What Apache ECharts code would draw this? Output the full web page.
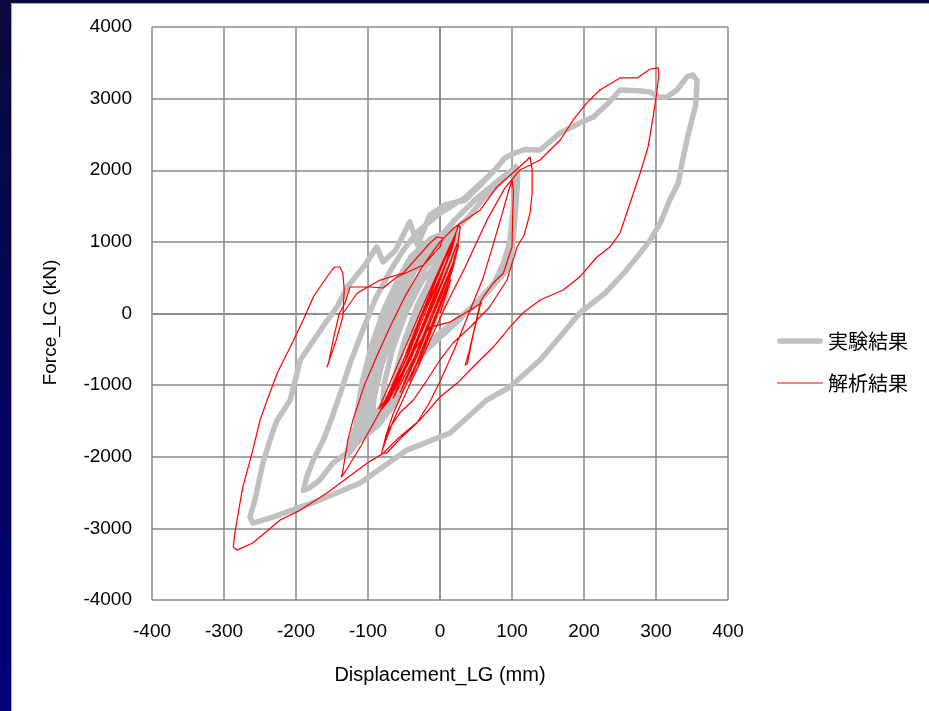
<!DOCTYPE html>
<html>
<head>
<meta charset="utf-8">
<script src="https://cdn.jsdelivr.net/npm/echarts@6/dist/echarts.min.js"></script>
<style>
  html, body { margin: 0; padding: 0; background: #ffffff; }
  #chart { width: 929px; height: 711px; }
</style>
</head>
<body>
<div id="chart"></div>
<script>
// Axis ranges and tick spacing
const dispRange = [-400, 400];
const dispStep = 100;
const forceRange = [-4000, 4000];
const forceStep = 1000;

// Series names
const seriesNames = ['実験結果', '解析結果'];

// Test record: displacement (mm), force (kN), in loading order
const experimentPath = [
  // small cycles around the origin
  [0,0],[8,250],[12,450],[4,200],[-10,-150],[-25,-550],[-35,-800],[-30,-550],[-18,-150],[0,300],[12,600],[6,400],
  [-8,50],[-28,-450],[-45,-850],[-50,-1000],[-48,-700],[-38,-300],[-22,150],[-5,480],[10,700],[6,450],[-5,100],
  [-20,-300],[-35,-700],[-50,-1000],[-65,-1200],[-62,-850],[-50,-400],[-32,100],[-12,500],[15,850],[10,550],[-2,150],
  [-18,-300],[-40,-800],[-65,-1200],[-80,-1400],[-78,-1000],[-66,-500],[-48,0],[-25,450],[0,750],[20,950],[14,650],
  [0,250],[-15,-200],[-35,-650],[-58,-1050],[-80,-1400],[-95,-1600],[-92,-1200],[-82,-750],[-65,-250],[-45,250],
  [-20,650],[5,900],[22,1050],[16,750],[2,300],[-12,-100],[-30,-550],[-55,-1000],[-75,-1300],[-95,-1600],[-105,-1700],
  [-100,-1300],[-90,-800],[-75,-300],[-55,200],[-35,600],[-10,900],[25,1100],[20,800],[8,400],[-5,0],[-25,-500],
  [-50,-1000],[-80,-1400],[-105,-1700],[-110,-1750],[-108,-1400],[-98,-900],[-80,-350],[-60,200],[-38,650],[-15,950],
  [22,1150],[15,850],[5,450],[-5,100],[-20,-350],[-42,-850],[-62,-1250],[-85,-1550],[-115,-1800],[-113,-1500],
  [-105,-1000],[-90,-500],[-72,0],[-52,450],[-35,750],[-10,1000],[20,1150],[8,800],[-2,350],[-12,0],[-30,-450],
  [-55,-950],[-78,-1350],[-100,-1650],[-118,-1820],[-116,-1450],[-108,-950],[-95,-450],[-78,50],[-58,480],[-40,800],
  [-12,1050],[22,1180],
  // first medium cycle
  [40,1350],[60,1600],[80,1800],[95,1950],[105,2050],[108,1900],[106,1600],[103,1200],[100,886],[93,607],[65,286],
  [46,91],[18,-133],[0,-272],[-14,-412],[-40,-750],[-70,-1150],[-95,-1500],[-112,-1760],[-126,-1950],[-130,-1990],
  [-126,-1850],[-118,-1600],[-108,-1350],[-98,-1100],[-85,-750],[-65,-300],[-45,150],[-25,600],[-5,1000],
  [20,1300],[50,1600],[80,1850],[100,2000],
  // second medium cycle, then the large cycle
  [105,1900],[102,1500],[97,1000],[88,700],[75,420],[50,150],[20,-150],[-20,-520],[-60,-1000],[-100,-1550],
  [-115,-1767],[-129,-1948],[-149,-2088],[-167,-2325],[-182,-2440],[-190,-2470],[-188,-2400],[-185,-2283],
  [-176,-2046],[-162,-1767],[-150,-1450],[-138,-1100],[-125,-700],[-108,-250],[-90,200],[-70,580],[-50,900],
  [-30,1150],[0,1400],[35,1620],[60,1850],[76,2004],[90,2172],[104,2241],[118,2290],
  [139,2283],[167,2521],[194,2660],[213,2744],[235,2950],[250,3121],[275,3110],[292,3093],[303,3024],[315,3024],
  [329,3120],[343,3303],[351,3331],[357,3250],[356,3050],[355,2900],[351,2750],[344,2465],[337,2143],[331,1822],
  [319,1584],[306,1264],[292,1025],[278,843],[255,560],[230,290],[194,7],[171,-272],[139,-649],[97,-1026],[65,-1208],
  [14,-1669],[-46,-1907],[-111,-2367],[-167,-2605],[-232,-2842],[-260,-2926],[-264,-2842],[-257,-2605],[-246,-2088],
  [-233,-1669],[-226,-1488],[-208,-1208],[-194,-649],[-163,-188],[-143,91],[-129,370],[-104,677],[-88,929],[-79,719],
  [-62,880],[-42,1278],[-31,956],[-14,1376],[7,1516],[35,1585],[56,1795],[76,2004],[90,2172]
];

// Analysis result: displacement (mm), force (kN), in loading order
const analysisPath = [
  [0,0],[8,250],[15,480],[10,350],[-5,-50],[-20,-450],[-30,-700],[-22,-500],[-5,0],[10,400],[20,700],[14,520],
  [-2,80],[-25,-500],[-42,-950],[-35,-780],[-15,-250],[5,250],[22,800],[16,620],[-5,100],[-30,-550],[-55,-1100],
  [-48,-920],[-25,-380],[0,200],[20,750],[26,950],[18,700],[-5,150],[-35,-600],[-65,-1180],[-58,-1000],[-35,-480],
  [-10,100],[12,650],[24,980],[14,720],[-10,150],[-40,-620],[-72,-1230],[-80,-1300],[-70,-1080],[-45,-520],[-20,80],
  [5,620],[18,960],[8,700],[-15,150],[-45,-600],[-75,-1200],[-85,-1330],[-76,-1120],[-52,-560],[-25,80],[0,640],
  [16,1000],[10,760],[-8,250],[-32,-380],[-60,-980],[-78,-1280],[-70,-1150],[-48,-650],[-28,-120],[-6,450],[12,880],
  [20,1080],[14,850],[-4,350],[-26,-250],[-52,-850],[-74,-1250],[-83,-1360],[-74,-1200],[-55,-760],[-34,-220],
  [-12,330],[8,800],[22,1100],[16,880],[0,480],[-22,-100],[-46,-700],[-68,-1150],[-80,-1320],[-72,-1180],[-50,-700],
  [-30,-170],[-8,420],[10,850],[18,1020],
  [26,1236],[28,1200],[24,920],[10,400],[-10,-150],[-30,-650],[-50,-1050],[-65,-1400],[-75,-1700],[-81,-1948],
  [-74,-1948],[-53,-1725],[-32,-1529],[-15,-1250],[0,-950],[20,-500],[40,0],[60,500],[75,1000],[88,1450],[95,1700],
  [100,1864],[102,1700],[101,1404],[100,929],[88,565],[74,426],[60,230],[56,160],[48,-200],[40,-550],[35,-720],
  [38,-700],[46,-300],[56,120],[58,150],[42,50],[14,-120],[-14,-190],[-35,-500],[-60,-950],[-85,-1400],[-110,-1850],
  [-128,-2150],[-137,-2284],[-135,-2200],[-128,-1767],[-121,-1488],[-105,-1000],[-88,-600],[-70,-200],[-48,250],
  [-25,650],[0,1000],[20,1200],[56,1446],[79,1767],[101,1962],[121,2143],[125,2186],[128,2004],[128,1683],[125,1400],
  [117,1100],[107,929],[93,468],[69,91],[42,-189],[18,-412],[0,-649],[-18,-929],[-37,-1208],[-56,-1390],[-70,-1600],
  [-78,-1850],[-80,-1900],[-65,-1500],[-40,-950],[-15,-400],[10,150],[35,650],[65,1300],[90,1750],[111,2004],
  [139,2143],[167,2423],[185,2702],[204,2940],[222,3121],[250,3289],[274,3289],[292,3414],[303,3428],[304,3331],
  [301,3079],[296,2744],[289,2325],[278,1962],[264,1543],[250,1124],[236,928],[218,789],[194,510],[171,328],[139,189],
  [115,7],[97,-189],[74,-468],[46,-747],[24,-971],[0,-1166],[-28,-1488],[-56,-1725],[-80,-1960],[-101,-2088],
  [-157,-2507],[-194,-2745],[-222,-2884],[-260,-3205],[-282,-3303],[-287,-3261],[-285,-3066],[-274,-2423],
  [-260,-1907],[-250,-1488],[-240,-1208],[-226,-831],[-208,-468],[-190,-91],[-176,230],[-163,426],[-150,607],
  [-146,649],[-139,649],[-135,565],[-133,328],[-135,-49],[-145,-400],[-157,-747],[-155,-700],[-148,-350],[-140,0],
  [-132,146],[-125,370],[-97,370],[-79,356],[-60,510],[-23,677],[0,929],[4,1054],[-4,1068],[-14,984],[-51,565],
  [-83,467],[-115,286],[-135,0]
];

const chart = echarts.init(document.getElementById('chart'), null, { renderer: 'canvas' });

const axisFont = 'Arial, "Liberation Sans", sans-serif';
const gridColor = '#888888';

// legend swatches: a thick rounded bar and a thin line inside the same 46x8 box
const thickSwatch = 'path://M0,0h0.01v0.01h-0.01z M2,1.2h42a2.8,2.8 0 0 1 0,5.6h-42a2.8,2.8 0 0 1 0,-5.6z M45.99,7.99h0.01v0.01h-0.01z';
const thinSwatch = 'path://M0,0h0.01v0.01h-0.01z M0,3.4h46v1.2h-46z M45.99,7.99h0.01v0.01h-0.01z';

chart.setOption({
  backgroundColor: '#ffffff',
  animation: false,
  graphic: [
    { type: 'rect', left: 0, top: 0, shape: { width: 11, height: 711 }, z: 100,
      style: { fill: new echarts.graphic.LinearGradient(0, 0, 0, 1, [
        { offset: 0, color: '#0a0a3c' }, { offset: 1, color: '#00007a' }]) } },
    { type: 'rect', left: 0, top: 0, shape: { width: 929, height: 3 }, z: 100,
      style: { fill: '#0a0a3c' } },
    { type: 'rect', left: 11, top: 3, shape: { width: 1, height: 708 }, z: 100,
      style: { fill: '#a8a8b8' } },
    { type: 'rect', left: 11, top: 3, shape: { width: 918, height: 1 }, z: 100,
      style: { fill: '#a8a8b8' } }
  ],
  grid: { left: 152, right: 201, top: 27, bottom: 111, containLabel: false },
  legend: {
    orient: 'vertical',
    left: 777,
    top: 331,
    padding: 0,
    itemWidth: 46,
    itemHeight: 8,
    itemGap: 22,
    data: [
      { name: seriesNames[0], icon: thickSwatch },
      { name: seriesNames[1], icon: thinSwatch }
    ],
    textStyle: { fontSize: 20, color: '#000000', fontFamily: '"Noto Sans CJK JP", sans-serif' }
  },
  xAxis: {
    type: 'value',
    min: dispRange[0], max: dispRange[1], interval: dispStep,
    name: 'Displacement_LG (mm)',
    nameLocation: 'middle',
    nameGap: 65,
    nameTextStyle: { fontSize: 20, color: '#000000', fontFamily: axisFont },
    axisLine: { show: true, lineStyle: { color: gridColor, width: 1.5 } },
    axisTick: { show: false },
    axisLabel: { fontSize: 19, color: '#000000', fontFamily: axisFont, margin: 22,
      formatter: v => String(v) },
    splitLine: { show: true, lineStyle: { color: gridColor, width: 1.5 } }
  },
  yAxis: {
    type: 'value',
    min: forceRange[0], max: forceRange[1], interval: forceStep,
    name: 'Force_LG (kN)',
    nameLocation: 'middle',
    nameGap: 92,
    nameRotate: 90,
    nameTextStyle: { fontSize: 19, color: '#000000', fontFamily: axisFont, padding: [0, 18, 0, 0] },
    axisLine: { show: true, lineStyle: { color: gridColor, width: 1.5 } },
    axisTick: { show: false },
    axisLabel: { fontSize: 19, color: '#000000', fontFamily: axisFont, margin: 20,
      formatter: v => String(v) },
    splitLine: { show: true, lineStyle: { color: gridColor, width: 1.5 } }
  },
  series: [
    {
      name: seriesNames[0],
      type: 'line',
      data: experimentPath,
      symbol: 'none',
      smooth: false,
      clip: false,
      lineStyle: { color: '#c0c0c0', width: 5.5, cap: 'round', join: 'round' },
      itemStyle: { color: '#c0c0c0' },
      z: 2
    },
    {
      name: seriesNames[1],
      type: 'line',
      data: analysisPath,
      symbol: 'none',
      smooth: false,
      clip: false,
      lineStyle: { color: '#ff0000', width: 1.2, join: 'round' },
      itemStyle: { color: '#ff0000' },
      z: 3
    }
  ]
});
</script>
</body>
</html>
